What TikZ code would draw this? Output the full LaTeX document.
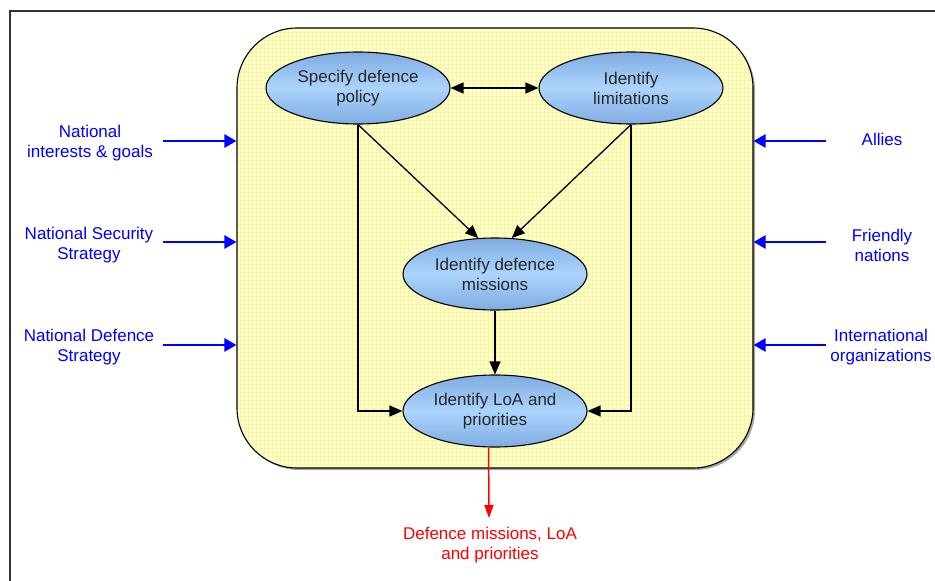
\documentclass[tikz,border=0pt]{standalone}
\usepackage{fontspec}
\setmainfont{Liberation Sans}
\usetikzlibrary{arrows.meta,shapes.geometric}

\definecolor{boxfill}{RGB}{255,255,200}
\definecolor{boxgrid}{RGB}{247,247,172}
\definecolor{ovaledge}{RGB}{128,172,226}
\definecolor{ovalmid}{RGB}{172,212,252}
\definecolor{inblue}{RGB}{0,0,255}
\definecolor{outred}{RGB}{255,0,0}

\tikzset{
  txt/.style={font=\fontsize{17pt}{20pt}\selectfont, align=center, inner sep=0pt},
  task/.style={ellipse, draw=black, line width=1.1pt, inner sep=0pt,
    top color=ovaledge, bottom color=ovaledge, middle color=ovalmid,
    minimum width=184pt, minimum height=72pt, txt, text=black!85},
  inlabel/.style={txt, text=inblue},
  outlabel/.style={txt, text=outred},
  flow/.style={line width=1.3pt, -{Triangle[length=13pt,width=11pt]}},
  both/.style={line width=1.3pt, {Triangle[length=13pt,width=11pt]}-{Triangle[length=13pt,width=11pt]}},
  feed/.style={draw=inblue, line width=2.4pt, -{Triangle[length=12pt,width=13pt]}},
  result/.style={draw=outred, line width=1.5pt, -{Triangle[length=13pt,width=9pt]}},
}

\begin{document}
\begin{tikzpicture}[x=1pt,y=-1pt]
  \useasboundingbox (0,0) rectangle (935,581);

  % page frame (top and left edges)
  \draw[line width=1.4pt, black!80] (10,581) -- (10,11) -- (935,11);

  % process area: shadow, gridded yellow fill, outline
  \fill[black!35, rounded corners=60pt] (239,30) rectangle (755,470);
  \begin{scope}
    \clip[rounded corners=60pt] (237,28) rectangle (753,468);
    \fill[boxfill] (237,28) rectangle (753,468);
    \draw[boxgrid, line width=0.5pt, step=4pt] (237,28) grid (753,468);
  \end{scope}
  \node[draw=black, line width=1.1pt, rounded corners=60pt, inner sep=0pt,
        minimum width=516pt, minimum height=440pt] (area) at (495,248) {};

  % process steps
  \node[task] (pol) at (358,88)  {Specify defence\\policy};
  \node[task] (lim) at (631,88)  {Identify\\limitations};
  \node[task] (mis) at (495,274) {Identify defence\\missions};
  \node[task] (loa) at (495,411) {Identify LoA and\\priorities};

  \draw[both] (pol) -- (lim);
  \draw[flow] (pol.south) -- (mis.115);
  \draw[flow] (lim.south) -- (mis.65);
  \draw[flow] (mis.south) -- (loa.north);
  \draw[flow] (pol.south) |- (loa.west);
  \draw[flow] (lim.south) |- (loa.east);

  % external inputs
  \node[inlabel] (nig) at (90,143)  {National\\interests \& goals};
  \node[inlabel] (nss) at (89,245)  {National Security\\Strategy};
  \node[inlabel] (nds) at (89,347)  {National Defence\\Strategy};
  \node[inlabel] (all) at (882,139) {Allies};
  \node[inlabel] (frn) at (882,245) {Friendly\\nations};
  \node[inlabel] (ino) at (881,347) {International\\organizations};

  \coordinate (l1) at (163,141);
  \coordinate (l2) at (163,242);
  \coordinate (l3) at (163,345);
  \coordinate (r1) at (826,141);
  \coordinate (r2) at (826,242);
  \coordinate (r3) at (826,345);
  \draw[feed] (l1) -- (l1 -| area.west);
  \draw[feed] (l2) -- (l2 -| area.west);
  \draw[feed] (l3) -- (l3 -| area.west);
  \draw[feed] (r1) -- (r1 -| area.east);
  \draw[feed] (r2) -- (r2 -| area.east);
  \draw[feed] (r3) -- (r3 -| area.east);

  % output
  \node[outlabel] (out) at (490,545) {Defence missions, LoA\\and priorities};
  \coordinate (outtip) at (489,518);
  \draw[result] (loa.260) -- (outtip);
\end{tikzpicture}
\end{document}
